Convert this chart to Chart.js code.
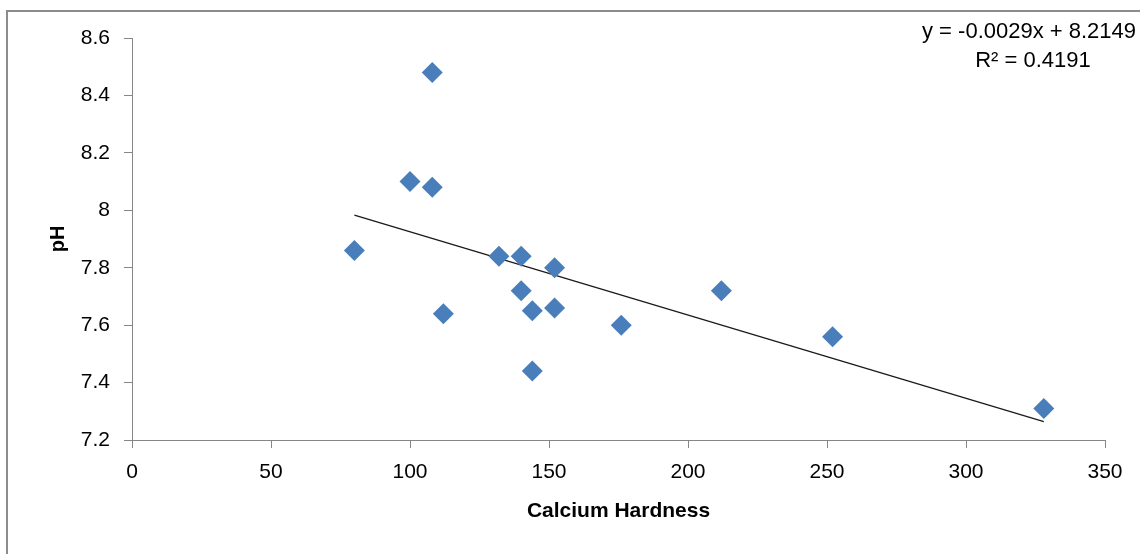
<!DOCTYPE html>
<html>
<head>
<meta charset="utf-8">
<script src="https://cdn.jsdelivr.net/npm/chart.js@4"></script>
<style>
  html, body { margin: 0; padding: 0; background: #fff; }
  #wrap { width: 1140px; height: 554px; position: relative; }
</style>
</head>
<body>
<div id="wrap"><canvas id="phChart" width="1140" height="554"></canvas></div>
<script>
// calcium hardness vs pH
const hardness = [80, 100, 108, 108, 112, 132, 140, 140, 144, 144, 152, 152, 176, 212, 252, 328];
const phValues = [7.86, 8.10, 8.48, 8.08, 7.64, 7.84, 7.84, 7.72, 7.65, 7.44, 7.80, 7.66, 7.60, 7.72, 7.56, 7.31];

// linear trendline as printed on the chart
const slope = -0.0029;
const intercept = 8.2149;
const rSquared = '0.4191';
const trendX = [80, 328];

const xTicks = [0, 50, 100, 150, 200, 250, 300, 350];
const yTicks = [7.2, 7.4, 7.6, 7.8, 8, 8.2, 8.4, 8.6];

const FONT = "'Liberation Sans', Arial, sans-serif";
const axisGray = '#868686';

const points = hardness.map((h, i) => ({ x: h, y: phValues[i] }));
const trendPoints = trendX.map(x => ({ x: x, y: slope * x + intercept }));

const frameAndLabel = {
    id: 'frameAndLabel',
    beforeDraw(chart) {
        const ctx = chart.ctx;
        ctx.save();
        ctx.fillStyle = '#fff';
        ctx.fillRect(0, 0, chart.width, chart.height);
        ctx.strokeStyle = '#8c8c8c';
        ctx.lineWidth = 2;
        ctx.beginPath();
        ctx.moveTo(7, 560);
        ctx.lineTo(7, 11);
        ctx.lineTo(1150, 11);
        ctx.stroke();
        ctx.restore();
    },
    afterDraw(chart) {
        const ctx = chart.ctx;
        ctx.save();
        ctx.fillStyle = '#000';
        ctx.font = '22px ' + FONT;
        ctx.textBaseline = 'middle';
        ctx.textAlign = 'left';
        const sign = intercept >= 0 ? ' + ' : ' - ';
        ctx.fillText('y = ' + slope.toFixed(4) + 'x' + sign + Math.abs(intercept).toFixed(4), 922, 32);
        ctx.textAlign = 'center';
        ctx.fillText('R\u00B2 = ' + rSquared, 1033, 61);
        ctx.restore();
    }
};

new Chart(document.getElementById('phChart').getContext('2d'), {
    type: 'scatter',
    data: {
        datasets: [{
            label: 'pH',
            data: points,
            pointStyle: 'rectRot',
            pointRadius: 10.5,
            pointHoverRadius: 10.5,
            backgroundColor: '#4a7ebb',
            borderColor: '#4a7ebb',
            borderWidth: 0,
            order: 1
        }, {
            label: 'Linear (pH)',
            type: 'line',
            data: trendPoints,
            borderColor: '#1a1a1a',
            borderWidth: 1.3,
            pointRadius: 0,
            fill: false,
            order: 2
        }]
    },
    options: {
        responsive: false,
        animation: false,
        layout: { padding: { left: 46, right: 35, top: 38, bottom: 30 } },
        plugins: {
            legend: { display: false },
            tooltip: { enabled: false }
        },
        scales: {
            x: {
                type: 'linear',
                min: 0,
                max: 350,
                afterBuildTicks: s => { s.ticks = xTicks.map(v => ({ value: v })); },
                afterFit: s => { s.height = 554 - 440 - 30; },
                grid: { drawOnChartArea: false, drawTicks: true, tickLength: 8, color: axisGray },
                border: { color: axisGray, width: 1 },
                ticks: { color: '#000', font: { family: FONT, size: 21 }, padding: 12, maxRotation: 0 },
                title: {
                    display: true,
                    text: 'Calcium Hardness',
                    color: '#000',
                    font: { family: FONT, size: 21, weight: 'bold' },
                    padding: 0
                }
            },
            y: {
                min: 7.2,
                max: 8.6,
                afterBuildTicks: s => { s.ticks = yTicks.map(v => ({ value: v })); },
                afterFit: s => { s.width = 132 - 46; },
                grid: { drawOnChartArea: false, drawTicks: true, tickLength: 8, color: axisGray },
                border: { color: axisGray, width: 1 },
                ticks: {
                    color: '#000',
                    font: { family: FONT, size: 21 },
                    padding: 14,
                    callback: v => String(v)
                },
                title: {
                    display: true,
                    text: 'pH',
                    color: '#000',
                    font: { family: FONT, size: 20, weight: 'bold' },
                    padding: 0
                }
            }
        }
    },
    plugins: [frameAndLabel]
});
</script>
</body>
</html>
